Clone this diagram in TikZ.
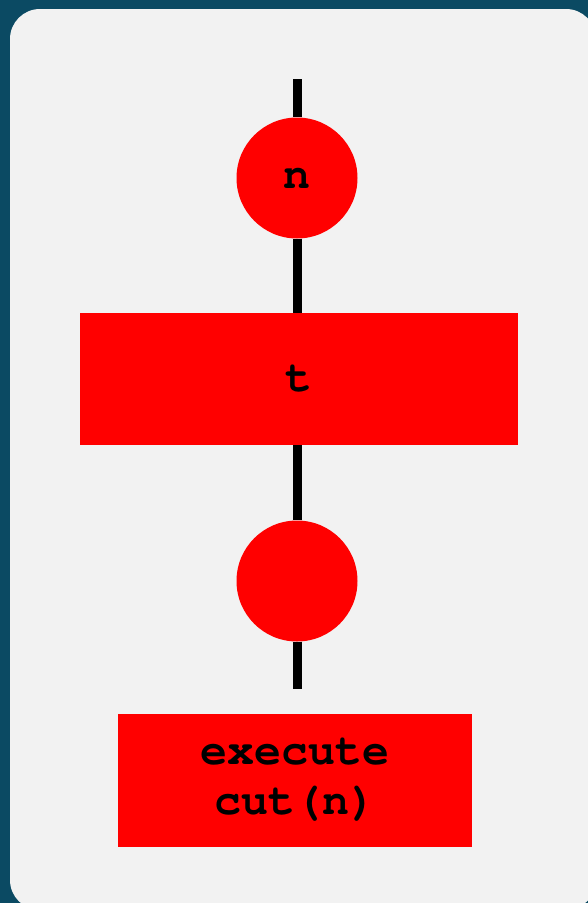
\documentclass[tikz,border=0pt]{standalone}
\usepackage{fontspec}
\newfontfamily\codefont{texgyrecursor}[Extension=.otf, UprightFont=*-regular, BoldFont=*-bold]
\usepackage{xcolor}
\usetikzlibrary{positioning}
\definecolor{frameteal}{HTML}{0B4A63}
\definecolor{panelgray}{HTML}{F2F2F2}
\definecolor{boxred}{HTML}{FF0000}

\begin{document}
\begin{tikzpicture}[x=1pt, y=-1pt,
  every node/.style={font=\codefont\bfseries\fontsize{45}{50}\selectfont, text=black, align=center, inner sep=0pt},
  dot/.style={circle, fill=boxred, minimum size=121pt},
  block/.style={rectangle, fill=boxred},
  wire/.style={line width=9pt, black}]
\useasboundingbox (0,0) rectangle (588,903);
% frame
\fill[frameteal] (0,0) rectangle (588,903);
\fill[panelgray, rounded corners=30pt] (10,9) rectangle (596,910);

% Nodes
\coordinate (top) at (297,79);
\node[dot] (n) at (297,178) {n};
\node[block, minimum width=438pt, minimum height=132pt] (t) at (299,379) {t};
\node[dot] (empty) at (297,581) {};
\coordinate (bottom) at (297,689);
\node[block, minimum width=354pt, minimum height=133pt] (cut) at (295,780) {execute\\cut(n)};

% Wires
\draw[wire] (top) -- (n);
\draw[wire] (n) -- (n |- t.north);
\draw[wire] (empty |- t.south) -- (empty);
\draw[wire] (empty) -- (bottom);

\end{tikzpicture}
\end{document}
